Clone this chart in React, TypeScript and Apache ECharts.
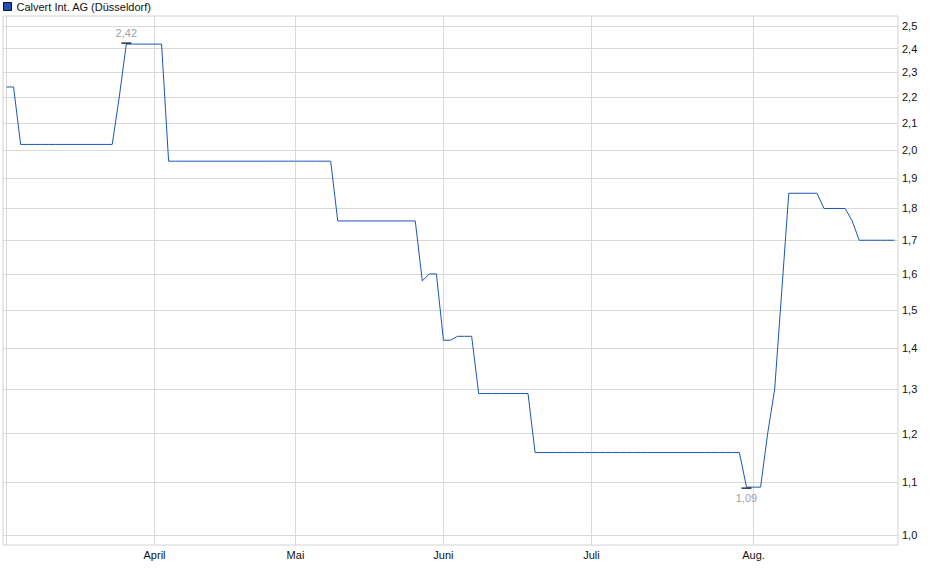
import { useEffect, useRef } from 'react';
import * as echarts from 'echarts';

// trading days from 3 March to 29 August, one close per day
const closes = [
    // März
    2.24, 2.24, 2.02, 2.02, 2.02, 2.02, 2.02, 2.02, 2.02, 2.02, 2.02, 2.02, 2.02, 2.02, 2.02, 2.02, 2.20, 2.42, 2.42, 2.42, 2.42,
    // April
    2.42, 2.42, 1.96, 1.96, 1.96, 1.96, 1.96, 1.96, 1.96, 1.96, 1.96, 1.96, 1.96, 1.96, 1.96, 1.96, 1.96, 1.96, 1.96, 1.96,
    // Mai
    1.96, 1.96, 1.96, 1.96, 1.96, 1.96, 1.76, 1.76, 1.76, 1.76, 1.76, 1.76, 1.76, 1.76, 1.76, 1.76, 1.76, 1.76, 1.58, 1.60, 1.60,
    // Juni
    1.42, 1.42, 1.43, 1.43, 1.43, 1.29, 1.29, 1.29, 1.29, 1.29, 1.29, 1.29, 1.29, 1.16, 1.16, 1.16, 1.16, 1.16, 1.16, 1.16, 1.16,
    // Juli
    1.16, 1.16, 1.16, 1.16, 1.16, 1.16, 1.16, 1.16, 1.16, 1.16, 1.16, 1.16, 1.16, 1.16, 1.16, 1.16, 1.16, 1.16, 1.16, 1.16, 1.16, 1.16, 1.09,
    // Aug.
    1.09, 1.09, 1.20, 1.30, 1.55, 1.85, 1.85, 1.85, 1.85, 1.85, 1.80, 1.80, 1.80, 1.80, 1.76, 1.70, 1.70, 1.70, 1.70, 1.70, 1.70,
];

// first trading day of each month (index into closes)
const monthStarts = [0, 21, 41, 62, 83, 106];
const monthLabels = ['', 'April', 'Mai', 'Juni', 'Juli', 'Aug.'];

const yTicks = [1.0, 1.1, 1.2, 1.3, 1.4, 1.5, 1.6, 1.7, 1.8, 1.9, 2.0, 2.1, 2.2, 2.3, 2.4, 2.5];

const seriesName = 'Calvert Int. AG (Düsseldorf)';
const FONT = "'Liberation Sans', Arial, sans-serif";
const GRID_COLOR = '#d9d9d9';
const LINE_COLOR = '#1a56b8';

const fmt = (v: number, d: number) => v.toFixed(d).replace('.', ',');

const App = () => {
    const chartRef = useRef<HTMLDivElement>(null);

    useEffect(() => {
        if (!chartRef.current) return;
        document.body.style.margin = '0';

        const chart = echarts.init(chartRef.current, undefined, { renderer: 'svg' });

        // log scale: plot ln(price), 2,5 and 1,0 sit 10px inside the frame
        const top = Math.log(2.5);
        const pad = (top * 10) / 509;

        const maxIdx = closes.indexOf(Math.max(...closes));
        const minIdx = closes.indexOf(Math.min(...closes));

        chart.setOption({
            animation: false,
            textStyle: { fontFamily: FONT },
            legend: {
                left: 3,
                top: 1,
                padding: 0,
                itemWidth: 8,
                itemHeight: 8,
                itemGap: 5,
                textStyle: { fontSize: 11, color: '#111', fontFamily: FONT },
                data: [{
                    name: seriesName,
                    icon: 'rect',
                    itemStyle: { color: '#1f52b0', borderColor: '#111', borderWidth: 1 },
                }],
            },
            grid: {
                left: 3,
                right: 42,
                top: 16,
                bottom: 34,
                show: true,
                borderColor: '#d2d2d2',
                borderWidth: 1,
            },
            xAxis: {
                type: 'value',
                min: -0.5,
                max: closes.length - 0.5,
                axisLine: { show: false },
                axisTick: { show: false, customValues: monthStarts },
                splitLine: { show: true, lineStyle: { color: GRID_COLOR, width: 1 } },
                axisLabel: {
                    customValues: monthStarts.slice(1),
                    margin: 4,
                    fontSize: 11,
                    color: '#111',
                    fontFamily: FONT,
                    formatter: (v: number) => monthLabels[monthStarts.indexOf(Math.round(v))],
                },
            },
            yAxis: {
                type: 'value',
                position: 'right',
                min: -pad,
                max: top + pad,
                axisLine: { show: false },
                axisTick: { show: false, customValues: yTicks.map(Math.log) },
                splitLine: { show: true, lineStyle: { color: GRID_COLOR, width: 1 } },
                axisLabel: {
                    customValues: yTicks.map(Math.log),
                    margin: 4,
                    fontSize: 11,
                    color: '#111',
                    fontFamily: FONT,
                    formatter: (v: number) => fmt(Math.exp(v), 1),
                },
            },
            series: [{
                name: seriesName,
                type: 'line',
                showSymbol: false,
                silent: true,
                lineStyle: { color: LINE_COLOR, width: 1 },
                itemStyle: { color: LINE_COLOR },
                data: closes.map((v, i) => [i, Math.log(v)]),
                markPoint: {
                    symbol: 'rect',
                    symbolSize: [10, 1.2],
                    itemStyle: { color: '#000' },
                    label: { fontSize: 11, color: '#a0a0a0', fontFamily: FONT, distance: 4 },
                    data: [
                        {
                            coord: [maxIdx, Math.log(closes[maxIdx])],
                            symbolOffset: [0, -1],
                            label: { position: 'top', formatter: fmt(closes[maxIdx], 2) },
                        },
                        {
                            coord: [minIdx, Math.log(closes[minIdx])],
                            symbolOffset: [0, 1],
                            label: { position: 'bottom', formatter: fmt(closes[minIdx], 2) },
                        },
                    ],
                },
            }],
        });

        return () => {
            chart.dispose();
        };
    }, []);

    return <div ref={chartRef} style={{ width: '940px', height: '579px', background: '#fff' }} />;
};

export default App;
